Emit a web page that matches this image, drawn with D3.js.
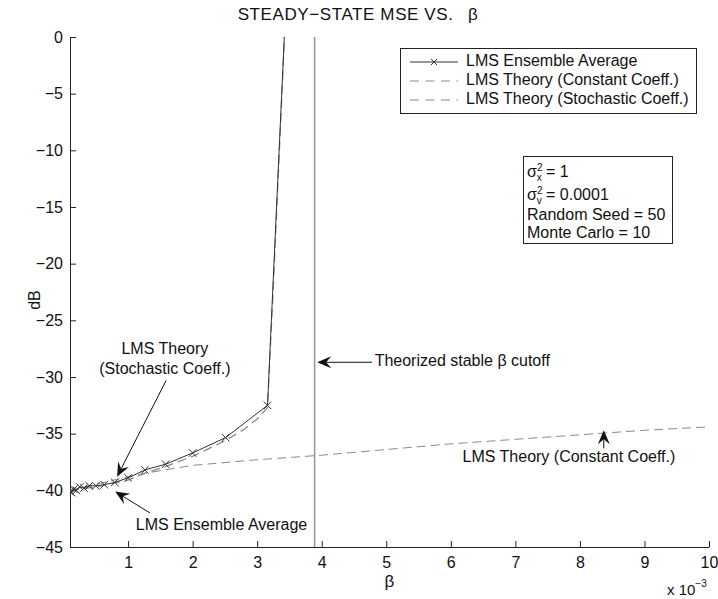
<!DOCTYPE html>
<html>
<head>
<meta charset="utf-8">
<script src="https://cdn.jsdelivr.net/npm/d3@7"></script>
<style>
  html, body { margin: 0; padding: 0; background: #fff; }
  svg { display: block; font-family: "Liberation Sans", Arial, Helvetica, sans-serif; }
</style>
</head>
<body>
<svg id="chart" width="718" height="599"></svg>
<script>
// Step sizes (x 10^-3) and steady-state MSE in dB
const ensembleBeta = [0.1, 0.126, 0.158, 0.2, 0.251, 0.316, 0.398, 0.501, 0.631, 0.794, 1.0, 1.26, 1.58, 2.0, 2.51, 3.16, 3.98];
const ensembleDb   = [-40.1, -40.2, -39.9, -40.0, -39.7, -39.8, -39.6, -39.6, -39.5, -39.3, -38.9, -38.2, -37.7, -36.7, -35.35, -32.5, 70];

const constBeta = [0.1, 1, 1.25, 2, 3, 4, 5, 6, 7, 8, 9, 10];
const constDb   = [-40.0, -38.8, -38.5, -37.8, -37.3, -36.9, -36.4, -35.9, -35.5, -35.1, -34.7, -34.4];

const stochBeta = [0.1, 0.5, 1.0, 1.26, 1.58, 2.0, 2.51, 2.8, 3.0, 3.16, 3.25, 3.32, 3.38, 3.43, 3.5];
const stochDb   = [-40.0, -39.7, -39.1, -38.5, -37.9, -37.0, -35.6, -34.6, -33.7, -32.7, -22, -13, -5.5, 1, 12];

const cutoffBeta = 3.89;

const xTicks = [1, 2, 3, 4, 5, 6, 7, 8, 9, 10];
const yTicks = [-45, -40, -35, -30, -25, -20, -15, -10, -5, 0];

const legendLabels = ["LMS Ensemble Average", "LMS Theory (Constant Coeff.)", "LMS Theory (Stochastic Coeff.)"];
// symbol | subscript | superscript | rest
const infoLines = ["σ|x|2| = 1", "σ|v|2| = 0.0001", "Random Seed = 50", "Monte Carlo = 10"];

const svg = d3.select("#chart");
const plotL = 70, plotR = 709, plotT = 37, plotB = 547;

const x = d3.scaleLinear().domain([0.1, 10]).range([plotL, plotR]);
const y = d3.scaleLinear().domain([-45, 0]).range([plotB, plotT]);

svg.append("defs").append("clipPath").attr("id", "plotClip")
  .append("rect").attr("x", plotL).attr("y", plotT).attr("width", plotR - plotL).attr("height", plotB - plotT);

const fontSize = 16;

// Title
svg.append("text").attr("x", 358).attr("y", 20).attr("text-anchor", "middle")
  .attr("font-size", 17).attr("letter-spacing", 0.6).attr("fill", "#111")
  .text("STEADY\u2212STATE MSE VS.\u2002 β");

// Axes (ticks drawn inward)
const xAxis = d3.axisBottom(x).tickValues(xTicks).tickSizeInner(-6).tickSizeOuter(0).tickPadding(10)
  .tickFormat(d3.format("d"));
const yAxis = d3.axisLeft(y).tickValues(yTicks).tickSizeInner(-6).tickSizeOuter(0).tickPadding(7)
  .tickFormat(d => d < 0 ? "\u2212" + Math.abs(d) : String(d));

const gx = svg.append("g").attr("transform", `translate(0,${plotB})`).call(xAxis);
const gy = svg.append("g").attr("transform", `translate(${plotL},0)`).call(yAxis);
[gx, gy].forEach(g => {
  g.select(".domain").attr("stroke", "#222").attr("stroke-width", 1);
  g.selectAll(".tick line").attr("stroke", "#222");
  g.selectAll(".tick text").attr("font-size", fontSize).attr("fill", "#111")
    .attr("font-family", "'Liberation Sans', Arial, sans-serif");
});

// Axis labels
svg.append("text").attr("x", (plotL + plotR) / 2).attr("y", 587).attr("text-anchor", "middle")
  .attr("font-size", 17).attr("fill", "#111").text("β");
svg.append("text").attr("transform", "translate(40,300) rotate(-90)").attr("text-anchor", "middle")
  .attr("font-size", fontSize).attr("fill", "#111").text("dB");
const mult = svg.append("text").attr("x", 667).attr("y", 595).attr("font-size", 15).attr("fill", "#111");
mult.append("tspan").text("x 10");
mult.append("tspan").attr("dy", -8).attr("font-size", 10).text("\u22123");

// Plot area
const plot = svg.append("g").attr("clip-path", "url(#plotClip)");

// Theorized cutoff
plot.append("line").attr("x1", x(cutoffBeta)).attr("x2", x(cutoffBeta))
  .attr("y1", y(0)).attr("y2", y(-45))
  .attr("stroke", "#9a9a9a").attr("stroke-width", 1.6);

const line = d3.line().x(d => x(d[0])).y(d => y(d[1]));

// Constant-coefficient theory
plot.append("path").datum(d3.zip(constBeta, constDb)).attr("d", line)
  .attr("fill", "none").attr("stroke", "#8a8a8a").attr("stroke-width", 1)
  .attr("stroke-dasharray", "9,5");

// Stochastic-coefficient theory
plot.append("path").datum(d3.zip(stochBeta, stochDb)).attr("d", line)
  .attr("fill", "none").attr("stroke", "#8a8a8a").attr("stroke-width", 1.3)
  .attr("stroke-dasharray", "9,5");

// Ensemble average with x markers
const ens = d3.zip(ensembleBeta, ensembleDb);
plot.append("path").datum(ens).attr("d", line)
  .attr("fill", "none").attr("stroke", "#333").attr("stroke-width", 1);
const m = 3.8;
plot.selectAll("path.mk").data(ens).join("path").attr("class", "mk")
  .attr("d", d => {
    const cx = x(d[0]), cy = y(d[1]);
    return `M${cx - m},${cy - m}L${cx + m},${cy + m}M${cx - m},${cy + m}L${cx + m},${cy - m}`;
  })
  .attr("stroke", "#333").attr("stroke-width", 1);

// Annotation arrows (notched filled head)
function arrow(b1, v1, b2, v2) {
  const x1 = x(b1), y1 = y(v1), x2 = x(b2), y2 = y(v2);
  const ang = Math.atan2(y2 - y1, x2 - x1);
  const L = 14, W = 6, N = 9;
  const bx = x2 - L * Math.cos(ang), by = y2 - L * Math.sin(ang);
  const nx = x2 - N * Math.cos(ang), ny = y2 - N * Math.sin(ang);
  const px = -Math.sin(ang), py = Math.cos(ang);
  svg.append("line").attr("x1", x1).attr("y1", y1).attr("x2", nx).attr("y2", ny)
    .attr("stroke", "#111").attr("stroke-width", 1);
  svg.append("path")
    .attr("d", `M${x2},${y2}L${bx + W * px},${by + W * py}L${nx},${ny}L${bx - W * px},${by - W * py}Z`)
    .attr("fill", "#111");
}

function label(b, v, txt, anchor) {
  svg.append("text").attr("x", x(b)).attr("y", y(v)).attr("text-anchor", anchor || "start")
    .attr("dominant-baseline", "middle").attr("font-size", fontSize).attr("fill", "#111").text(txt);
}

// Stochastic theory note
label(1.57, -27.6, "LMS Theory", "middle");
label(1.57, -29.4, "(Stochastic Coeff.)", "middle");
arrow(1.59, -30.3, 0.83, -38.8);

// Ensemble note
label(1.12, -43.1, "LMS Ensemble Average", "start");
arrow(1.34, -42.0, 0.80, -40.1);

// Cutoff note
arrow(4.78, -28.7, 3.93, -28.7);
label(4.82, -28.7, "Theorized stable β cutoff", "start");

// Constant theory note
label(7.83, -37.1, "LMS Theory (Constant Coeff.)", "middle");
arrow(8.37, -36.3, 8.37, -34.7);

// Legend
const lg = svg.append("g");
lg.append("rect").attr("x", 400.5).attr("y", 48.5).attr("width", 296).attr("height", 65)
  .attr("fill", "#fff").attr("stroke", "#222").attr("stroke-width", 1);
legendLabels.forEach((t, i) => {
  const ly = 62 + i * 19;
  const seg = lg.append("line").attr("x1", 410).attr("x2", 458).attr("y1", ly).attr("y2", ly)
    .attr("stroke", i === 0 ? "#333" : "#8a8a8a").attr("stroke-width", 1);
  if (i > 0) seg.attr("stroke-dasharray", "9,6.5");
  if (i === 0) {
    lg.append("path").attr("d", `M${434 - 3},${ly - 3}L${434 + 3},${ly + 3}M${434 - 3},${ly + 3}L${434 + 3},${ly - 3}`)
      .attr("stroke", "#333");
  }
  lg.append("text").attr("x", 466).attr("y", ly).attr("dominant-baseline", "middle")
    .attr("font-size", fontSize).attr("fill", "#111").text(t);
});

// Parameter box
const ib = svg.append("g");
ib.append("rect").attr("x", 523.5).attr("y", 156.5).attr("width", 149).attr("height", 87)
  .attr("fill", "#fff").attr("stroke", "#222").attr("stroke-width", 1);
const infoY = [177, 200, 220, 238];
infoLines.forEach((t, i) => {
  const tx = ib.append("text").attr("x", 527).attr("y", infoY[i]).attr("font-size", fontSize).attr("fill", "#111");
  const parts = t.split("|");
  if (parts.length === 4) {
    tx.append("tspan").text(parts[0]);
    tx.append("tspan").attr("dy", -6).attr("font-size", 10).text(parts[2]);
    tx.append("tspan").attr("dx", -5.8).attr("dy", 10).attr("font-size", 10).text(parts[1]);
    tx.append("tspan").attr("dy", -4).text(parts[3]);
  } else {
    tx.text(t);
  }
});
</script>
</body>
</html>
